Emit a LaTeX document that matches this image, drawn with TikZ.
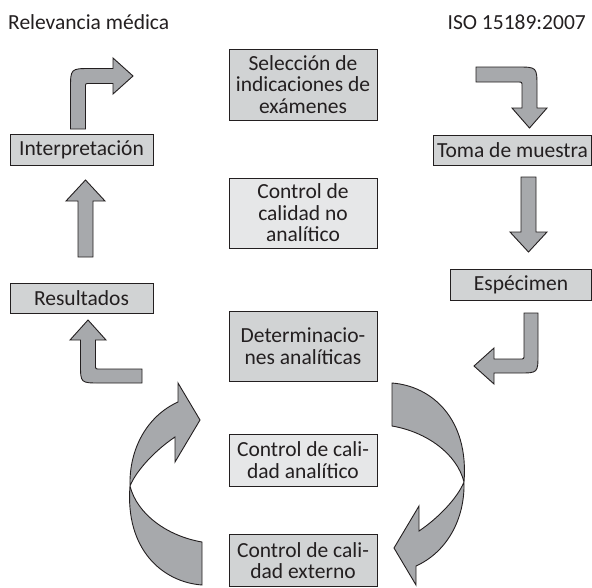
\documentclass[tikz,border=0pt]{standalone}
\usepackage{fontspec}
\setmainfont{Carlito}
\usepackage{xcolor}
\usetikzlibrary{positioning,calc}
\definecolor{boxdark}{HTML}{D1D3D4}
\definecolor{boxlight}{HTML}{E6E7E8}
\definecolor{arrowgray}{HTML}{A7A9AC}
\definecolor{edgegray}{HTML}{231F20}

\begin{document}
\begin{tikzpicture}[
    x=1pt, y=-1pt,
    box/.style={rectangle, draw=edgegray, line width=0.9pt, fill=boxdark, align=center, inner sep=0pt, font=\fontsize{21.5}{21.5}\selectfont, text=edgegray},
    lightbox/.style={box, fill=boxlight},
    label/.style={inner sep=0pt, font=\fontsize{21.5}{21.5}\selectfont, text=edgegray},
    barrow/.style={draw=edgegray, line width=0.9pt, fill=arrowgray, line join=miter}
]
    \useasboundingbox (0,0) rectangle (592,587);

    % headers
    \node[label, anchor=west] (relev) at (8,22) {Relevancia médica};
    \node[label, anchor=east] (iso) at (586,22) {ISO 15189:2007};

    % block arrows
    \draw[barrow] (70.5,129) -- (70.5,89) .. controls (70.5,68.5) .. (91,68.5) -- (113,68.5) -- (113,58) -- (133,76) -- (113,94) -- (113,83.5) -- (89,83.5) .. controls (85.5,83.5) .. (85.5,87) -- (85.5,129) -- cycle;
    \draw[barrow] (476,67) -- (517,67) .. controls (537,67) .. (537,87) -- (537,108) -- (547,108) -- (529.5,128) -- (512,108) -- (522,108) -- (522,86) .. controls (522,82) .. (518,82) -- (476,82) -- cycle;
    \draw[barrow] (521,177) -- (536,177) -- (536,232) -- (547,232) -- (528.5,252) -- (510,232) -- (521,232) -- cycle;
    \draw[barrow] (78,257) -- (78,201) -- (66,201) -- (85.5,180) -- (105,201) -- (93,201) -- (93,257) -- cycle;
    \draw[barrow] (524,313) -- (538,313) -- (538,354) .. controls (538,373) .. (519,373) -- (494,373) -- (494,384) -- (474,366) -- (494,348) -- (494,359) -- (520,359) .. controls (524,359) .. (524,355) -- cycle;
    \draw[barrow] (88,320) -- (106,340) -- (95.5,340) -- (95.5,365) .. controls (95.5,369) .. (99.5,369) -- (142,369) -- (142,383) -- (100,383) .. controls (80.5,383) .. (80.5,364) -- (80.5,340) -- (70,340) -- cycle;

    % twisted arrows round the analytic phase
    \foreach \ang in {0,180}
        \draw[barrow, shift={(297,484)}, rotate=\ang] (-95,58) -- (-95,101) .. controls (-135,98) and (-172,65) .. (-167,2) .. controls (-168,-35) and (-150,-68) .. (-119,-82) -- (-119,-101) -- (-97,-64) -- (-122,-22) -- (-122,-47) .. controls (-140,-35) and (-160,-15) .. (-167,2) .. controls (-160,30) and (-130,52) .. (-95,58) -- cycle;

    % boxes
    \node[box, minimum width=148pt, minimum height=71pt] (select) at (303,84.5) {Selección de\\indicaciones de\\exámenes};
    \node[lightbox, minimum width=148pt, minimum height=70pt] (nonanalytic) at (303,213) {Control de\\calidad no\\analítico};
    \node[box, minimum width=148pt, minimum height=70pt] (determ) at (303,346) {Determinacio-\\nes analíticas};
    \node[lightbox, minimum width=148pt, minimum height=52pt] (analytic) at (303,460) {Control de cali-\\dad analítico};
    \node[box, minimum width=148pt, minimum height=52pt] (external) at (303,560.5) {Control de cali-\\dad externo};
    \node[box, minimum width=143pt, minimum height=31pt] (interp) at (81.5,149.5) {Interpretación};
    \node[box, minimum width=143pt, minimum height=30pt] (results) at (81.5,298) {Resultados};
    \node[box, minimum width=158pt, minimum height=30pt] (sample) at (512.5,150) {Toma de muestra};
    \node[box, minimum width=141pt, minimum height=31pt] (specimen) at (521,284.5) {Espécimen};
\end{tikzpicture}
\end{document}
